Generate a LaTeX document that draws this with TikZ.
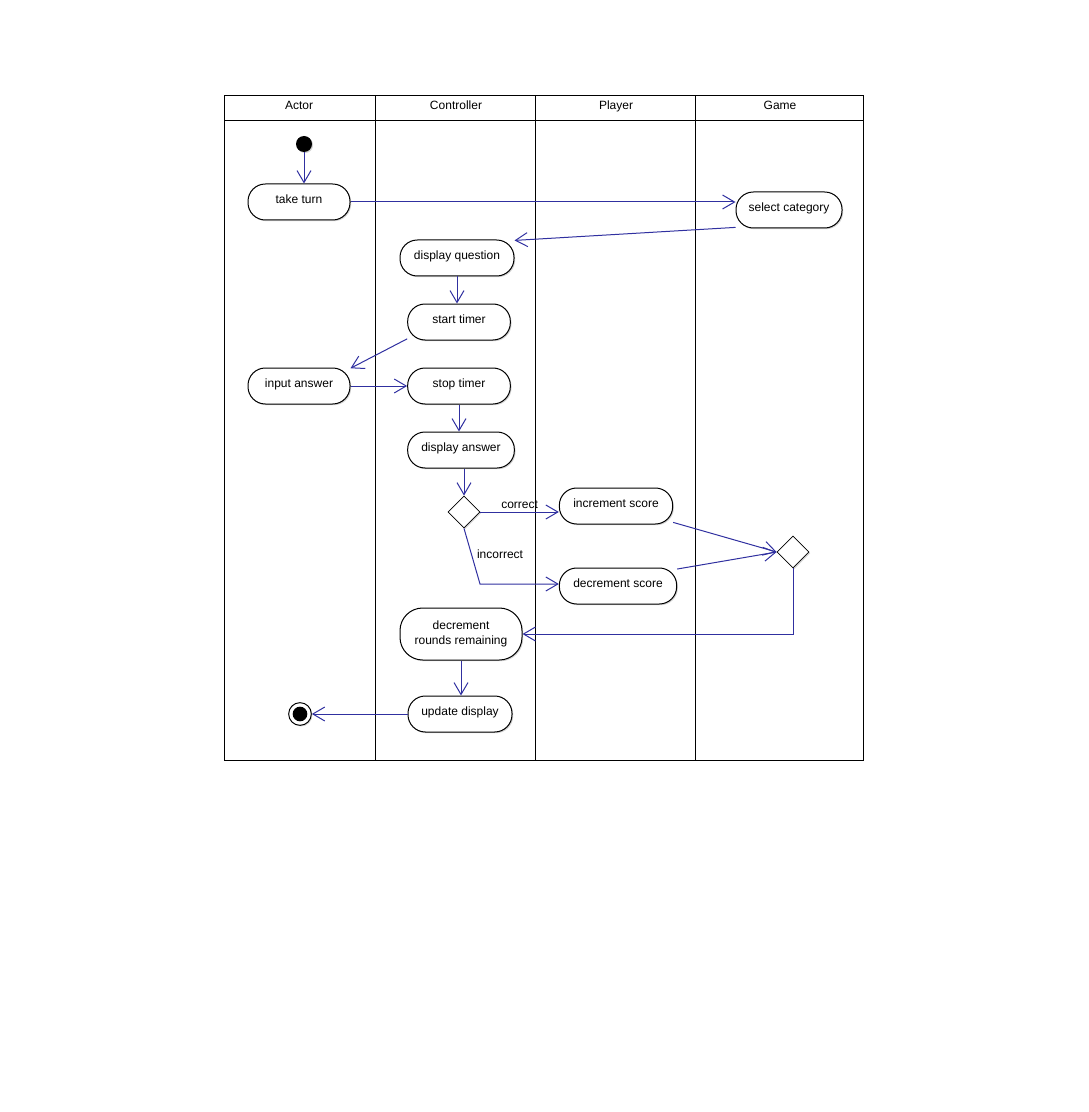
\documentclass[tikz,border=0pt]{standalone}
\usepackage{fontspec}
\setmainfont{Liberation Sans}
\usetikzlibrary{arrows.meta,positioning,calc,shapes.geometric,shadows}
\definecolor{flow}{HTML}{3030A0}
\definecolor{lane}{HTML}{000000}

\begin{document}
\begin{tikzpicture}[x=0.75pt, y=-0.75pt,
  act/.style={draw, line width=0.75pt, fill=white, rounded corners=13pt,
              minimum height=27pt, inner sep=1pt, align=center,
              text height=6.5pt, text depth=4.2pt,
              font=\fontsize{9}{11.5}\selectfont,
              drop shadow={shadow xshift=0.9pt, shadow yshift=-0.9pt, fill=black!35}},
  dec/.style={draw, diamond, fill=white, aspect=1, minimum size=24pt, inner sep=0pt,
              line width=0.6pt,
              drop shadow={shadow xshift=0.9pt, shadow yshift=-0.9pt, fill=black!35}},
  startdot/.style={circle, fill=black, minimum size=12pt, inner sep=0pt,
              drop shadow={shadow xshift=0.8pt, shadow yshift=-0.8pt, fill=black!35}},
  endring/.style={circle, draw, fill=white, line width=0.75pt, minimum size=17pt, inner sep=0pt,
              drop shadow={shadow xshift=0.8pt, shadow yshift=-0.8pt, fill=black!35}},
  enddot/.style={circle, fill=black, minimum size=11pt, inner sep=0pt},
  hdr/.style={font=\fontsize{9}{11}\selectfont, anchor=base},
  lbl/.style={font=\fontsize{9}{11}\selectfont, text=black},
  flw/.style={-{Straight Barb[length=9pt, width=10.5pt]}, flow, line width=0.75pt}]
  \useasboundingbox (0,0) rectangle (1088,1112);
  % swimlanes
  \draw[lane, line width=0.75pt] (224,96) rectangle (863,760);
  \draw[lane, line width=0.75pt] (224,121) -- (863,121);
  \foreach \lx in {375,535,695}
    \draw[lane, line width=0.75pt] (\lx,96) -- (\lx,760);
  \node[hdr] (hActor) at (299,110) {Actor};
  \node[hdr] (hCtrl) at (456,110) {Controller};
  \node[hdr] (hPlayer) at (616,110) {Player};
  \node[hdr] (hGame) at (780,110) {Game};
  % activities
  \node[startdot] (init) at (304,144) {};
  \node[act, minimum width=76.5pt] (take) at (299,202) {take turn};
  \node[act, minimum width=79.5pt] (cat) at (789,210) {select category};
  \node[act, minimum width=85.5pt] (dq) at (457,258) {display question};
  \node[act, minimum width=77pt] (st) at (459,322) {start timer};
  \node[act, minimum width=76.5pt] (ia) at (299,386) {input answer};
  \node[act, minimum width=77pt] (stp) at (459,386) {stop timer};
  \node[act, minimum width=80pt] (da) at (461,450) {display answer};
  \node[dec] (chk) at (464,512) {};
  \node[act, minimum width=85pt] (inc) at (616,506) {increment score};
  \node[act, minimum width=88pt] (decr) at (618,586) {decrement score};
  \node[dec] (merge) at (793,552) {};
  \node[act, text height=, text depth=, minimum width=91.5pt, minimum height=39pt,
        rounded corners=17pt] (rounds) at (461,634)
    {decrement\\rounds remaining};
  \node[act, minimum width=78pt] (upd) at (460,714) {update display};
  \node[endring] (fin) at (300,714) {};
  \node[enddot] (findot) at (fin) {};
  \coordinate (bend) at (480,584);
  % flows
  \draw[flw] (init) -- (init |- take.north);
  \draw[flw] (take.east) -- (take.east -| cat.west);
  \draw[flw] (cat.198) -- (dq.17);
  \draw[flw] (dq.south) -- (dq.south |- st.north);
  \draw[flw] (st.198) -- (ia.19);
  \draw[flw] (ia.east) -- (stp.west);
  \draw[flw] (stp.south) -- (stp.south |- da.north);
  \draw[flw] (da.south -| chk) -- (chk.north);
  \draw[flw] (chk.east) -- (chk.east -| inc.west)
    node[lbl, pos=0.5, above=-1pt] (lcorrect) {correct};
  \draw[flw] (chk.south) -- (bend) -- (bend -| decr.west);
  \node[lbl] (lincorrect) at (500,554) {incorrect};
  \draw[flw] (inc.-16) -- (merge.west);
  \draw[flw] (decr.16) -- (merge.west);
  \draw[flw] (merge.south) |- (rounds.east);
  \draw[flw] (rounds.south) -- (rounds.south |- upd.north);
  \draw[flw] (upd.west) -- (upd.west -| fin.east);
\end{tikzpicture}
\end{document}
